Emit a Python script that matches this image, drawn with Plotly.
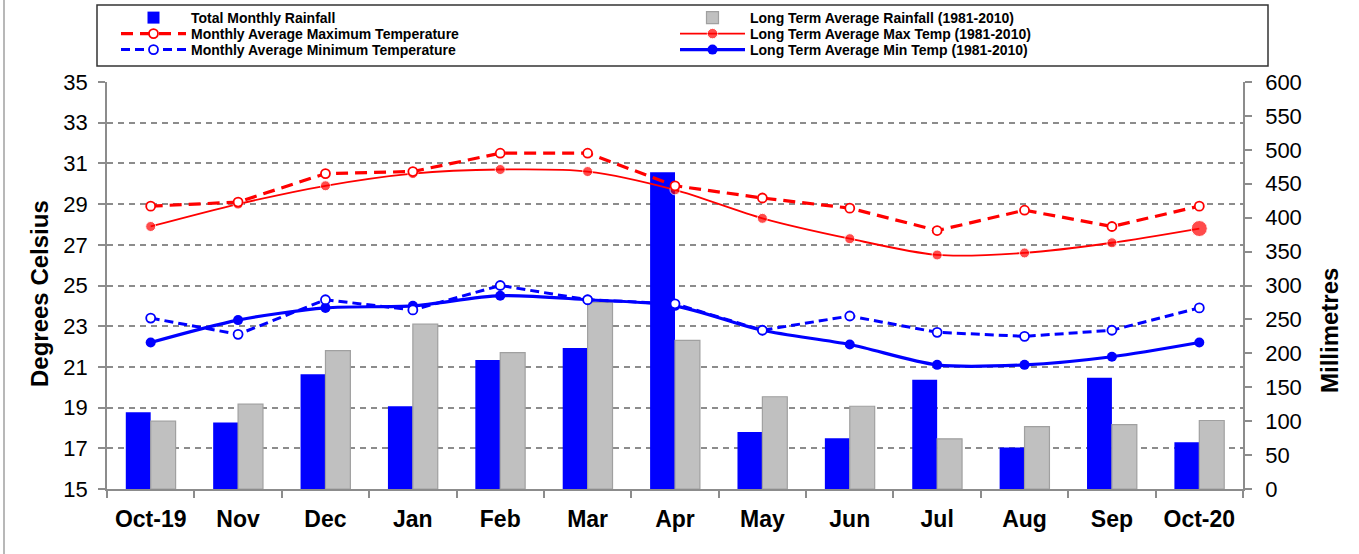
import plotly.graph_objects as go

months = ["Oct-19", "Nov", "Dec", "Jan", "Feb", "Mar", "Apr", "May", "Jun", "Jul", "Aug", "Sep", "Oct-20"]
rain_total = [113, 98, 169, 122, 190, 208, 467, 84, 75, 161, 61, 164, 69]
rain_lta = [100, 125, 204, 243, 201, 275, 219, 136, 122, 74, 92, 95, 101]
tmax_month = [28.9, 29.1, 30.5, 30.6, 31.5, 31.5, 29.9, 29.3, 28.8, 27.7, 28.7, 27.9, 28.9]
tmin_month = [23.4, 22.6, 24.3, 23.8, 25.0, 24.3, 24.1, 22.8, 23.5, 22.7, 22.5, 22.8, 23.9]
tmax_lta = [27.9, 29.0, 29.9, 30.5, 30.7, 30.6, 29.7, 28.3, 27.3, 26.5, 26.6, 27.1, 27.8]
tmin_lta = [22.2, 23.3, 23.9, 24.0, 24.5, 24.3, 24.0, 22.8, 22.1, 21.1, 21.1, 21.5, 22.2]

FONT = "Liberation Sans, Arial, sans-serif"
W, H = 1359, 554
L, R, T, B = 107, 116, 82, 65
PW, PH = W - L - R, H - T - B

fig = go.Figure()

# Bars on primary y (right side, mm)
fig.add_trace(go.Bar(x=months, y=rain_total, name="Total Monthly Rainfall",
                     marker=dict(color="#0000FF", line=dict(width=0)),
                     yaxis="y", legend="legend", offsetgroup="a"))
fig.add_trace(go.Bar(x=months, y=rain_lta, name="Long Term Average Rainfall (1981-2010)",
                     marker=dict(color="#C0C0C0", line=dict(color="#A0A0A0", width=1.2)),
                     yaxis="y", legend="legend4", offsetgroup="b"))

# Lines on y2 (left, deg C), drawn above bars
fig.add_trace(go.Scatter(x=months, y=tmax_lta, name="Long Term Average Max Temp (1981-2010)",
                         mode="lines+markers", line=dict(color="#FF0000", width=1.8, shape="spline", smoothing=0.8),
                         marker=dict(symbol="circle", color="#FF0000", size=[10]*12 + [16]),
                         yaxis="y2", legend="legend5"))
fig.add_trace(go.Scatter(x=months, y=tmin_lta, name="Long Term Average Min Temp (1981-2010)",
                         mode="lines+markers", line=dict(color="#0000FF", width=3.2, shape="spline", smoothing=0.8),
                         marker=dict(symbol="circle", color="#0000FF", size=10),
                         yaxis="y2", legend="legend6"))
fig.add_trace(go.Scatter(x=months, y=tmax_month, name="Monthly Average Maximum Temperature",
                         mode="lines+markers", line=dict(color="#FF0000", width=3.2, dash="12px,7px"),
                         marker=dict(symbol="circle", color="white", size=9, line=dict(color="#FF0000", width=1.8)),
                         yaxis="y2", legend="legend2"))
fig.add_trace(go.Scatter(x=months, y=tmin_month, name="Monthly Average Minimum Temperature",
                         mode="lines+markers", line=dict(color="#0000FF", width=3, dash="9px,5px"),
                         marker=dict(symbol="circle", color="white", size=9, line=dict(color="#0000FF", width=1.8)),
                         yaxis="y2", legend="legend3"))

axis_gray = "#8C8C8C"


def leg(xpx, ypx):
    return dict(xref="container", yref="container", x=xpx / W, y=1 - ypx / H,
                xanchor="left", yanchor="middle", orientation="v",
                font=dict(size=14, family=FONT, weight="bold"), itemwidth=65,
                bgcolor="rgba(0,0,0,0)", borderwidth=0)


def px_x(p):
    return (p - L) / PW


def px_y(p):
    return 1 - (p - T) / PH


fig.update_layout(
    width=W, height=H,
    margin=dict(l=L, r=R, t=T, b=B, autoexpand=False),
    paper_bgcolor="white", plot_bgcolor="white",
    font=dict(family=FONT, color="black"),
    barmode="group", bargap=0.43, bargroupgap=0,
    showlegend=True,
    xaxis=dict(type="category", range=[-0.5, len(months) - 0.5], autorange=False,
               showline=True, linecolor=axis_gray, linewidth=1.5,
               ticks="outside", tickson="boundaries", ticklen=7, tickcolor=axis_gray, tickwidth=1.5,
               tickangle=0,
               tickfont=dict(size=23, family=FONT, weight="bold"), ticklabelstandoff=9,
               showgrid=False, zeroline=False, automargin=False),
    yaxis=dict(side="right", range=[0, 600], dtick=50, tick0=0, showgrid=False, zeroline=False,
               showline=True, linecolor=axis_gray, linewidth=1.5, ticks="outside", ticklen=7,
               tickcolor=axis_gray, tickwidth=1.5, tickfont=dict(size=22), ticklabelstandoff=9,
               automargin=False),
    yaxis2=dict(side="left", overlaying="y", range=[15, 35], dtick=2, tick0=15,
                showgrid=True, gridcolor="#8C8C8C", griddash="6px,5px", gridwidth=1.5, zeroline=False,
                showline=True, linecolor=axis_gray, linewidth=1.5, ticks="outside", ticklen=7,
                tickcolor=axis_gray, tickwidth=1.5, tickfont=dict(size=22), ticklabelstandoff=6,
                automargin=False),
    legend=leg(116, 18),
    legend2=leg(116, 34),
    legend3=leg(116, 50),
    legend4=leg(675, 18),
    legend5=leg(675, 34),
    legend6=leg(675, 50),
    annotations=[
        dict(text="<b>Degrees Celsius</b>", xref="paper", yref="paper", x=px_x(39), y=px_y(294),
             xanchor="center", yanchor="middle", textangle=-90, showarrow=False,
             font=dict(size=24, family=FONT, color="black")),
        dict(text="<b>Millimetres</b>", xref="paper", yref="paper", x=px_x(1329), y=px_y(331),
             xanchor="center", yanchor="middle", textangle=-90, showarrow=False,
             font=dict(size=24, family=FONT, color="black")),
    ],
    shapes=[
        dict(type="rect", xref="paper", yref="paper", x0=px_x(97), x1=px_x(1268), y0=px_y(66), y1=px_y(5),
             line=dict(color="#333333", width=1.5), fillcolor="rgba(0,0,0,0)", layer="below"),
        dict(type="line", xref="paper", yref="paper", x0=px_x(4), x1=px_x(4), y0=px_y(554), y1=px_y(0),
             line=dict(color="#A0A0A0", width=1.5)),
    ],
)

fig.write_html("out.html", config={"displayModeBar": False},
               post_script="document.body.style.margin='0';")
